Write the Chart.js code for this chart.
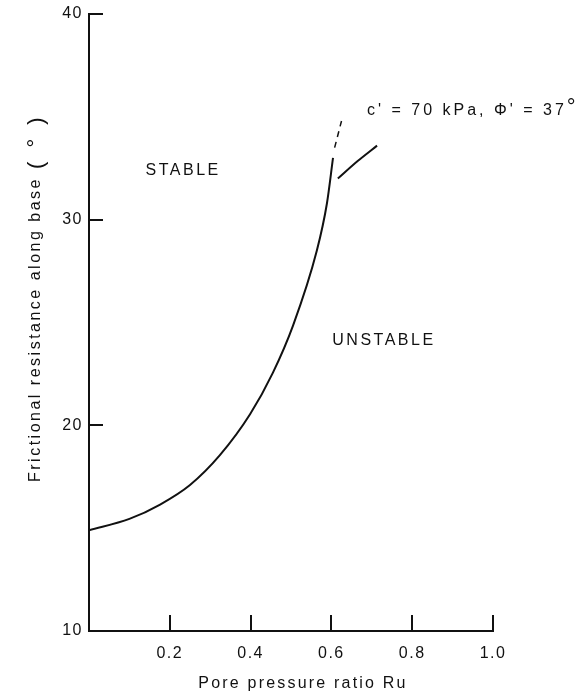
<!DOCTYPE html>
<html>
<head>
<meta charset="utf-8">
<script src="https://cdn.jsdelivr.net/npm/chart.js@4.4.1/dist/chart.umd.min.js"></script>
<style>
  html, body { margin: 0; padding: 0; background: #fff; }
  #wrap { width: 576px; height: 695px; position: relative; }
</style>
</head>
<body>
<div id="wrap"><canvas id="chart"></canvas></div>
<script>
// friction angle needed along the base vs pore pressure ratio
const ru = [0, 0.10, 0.176, 0.25, 0.324, 0.399, 0.455, 0.505, 0.564, 0.589, 0.604];
const friction = [14.9, 15.45, 16.15, 17.1, 18.55, 20.55, 22.55, 24.85, 28.5, 30.8, 33.0];

// dashed bit on top of the curve
const ruDash = [0.608, 0.625];
const frictionDash = [33.5, 34.8];

// short line pointing at the label
const ruLeader = [0.616, 0.665, 0.713];
const frictionLeader = [32.0, 32.85, 33.6];

const xTicks = [0, 0.2, 0.4, 0.6, 0.8, 1.0];
const yTicks = [10, 20, 30, 40];

const regionNames = ['STABLE', 'UNSTABLE'];
const regionRu = [0.233, 0.73];
const regionFriction = [32.4, 24.1];

const curveLabel = "c' = 70 kPa, \u03A6' = 37";
const curveLabelRu = 0.688;
const curveLabelFriction = 35.3;

const ink = '#111';
const family = '"Liberation Sans", Arial, Helvetica, sans-serif';
Chart.defaults.font.family = family;

const pts = (xs, ys) => xs.map((v, i) => ({x: v, y: ys[i]}));

const paperText = {
    id: 'paperText',
    beforeDraw(chart) {
        chart.ctx.letterSpacing = '1.5px';
    },
    afterDraw(chart) {
        const {ctx, chartArea} = chart;
        const x = chart.scales.x, y = chart.scales.y;
        ctx.save();
        ctx.fillStyle = ink;
        ctx.textBaseline = 'middle';

        ctx.font = '16px ' + family;
        ctx.letterSpacing = '2.5px';
        ctx.textAlign = 'center';
        regionNames.forEach((name, i) => {
            ctx.fillText(name, x.getPixelForValue(regionRu[i]), y.getPixelForValue(regionFriction[i]));
        });

        // c', phi' label, degree sign raised
        ctx.textAlign = 'left';
        ctx.letterSpacing = '3px';
        const lx = x.getPixelForValue(curveLabelRu);
        const ly = y.getPixelForValue(curveLabelFriction);
        ctx.fillText(curveLabel, lx, ly);
        const lw = ctx.measureText(curveLabel).width;
        ctx.font = '22px ' + family;
        ctx.fillText('\u00B0', lx + lw, ly - 3);

        // axis titles
        ctx.font = '16px ' + family;
        ctx.letterSpacing = '2.2px';
        ctx.textAlign = 'center';
        ctx.fillText('Pore pressure ratio Ru', (chartArea.left + chartArea.right) / 2 + 12, chart.height - 11);

        ctx.translate(36, chartArea.bottom - 149);
        ctx.rotate(-Math.PI / 2);
        ctx.textAlign = 'left';
        ctx.letterSpacing = '2.5px';
        const t = 'Frictional resistance along base';
        ctx.fillText(t, 0, 0);
        const tw = ctx.measureText(t).width;
        ctx.font = '22px ' + family;
        ctx.letterSpacing = '4px';
        ctx.fillText('( \u00B0 )', tw + 8, 1);
        ctx.restore();
    }
};

new Chart(document.getElementById('chart').getContext('2d'), {
    type: 'line',
    data: {
        datasets: [{
            data: pts(ru, friction),
            borderColor: ink,
            borderWidth: 2,
            pointRadius: 0,
            cubicInterpolationMode: 'monotone'
        }, {
            data: pts(ruDash, frictionDash),
            borderColor: ink,
            borderWidth: 1.5,
            borderDash: [6, 5],
            pointRadius: 0
        }, {
            data: pts(ruLeader, frictionLeader),
            borderColor: ink,
            borderWidth: 2,
            pointRadius: 0,
            tension: 0.3
        }]
    },
    options: {
        responsive: true,
        maintainAspectRatio: false,
        animation: false,
        layout: {padding: {left: 0, right: 83, top: 14, bottom: 0}},
        plugins: {legend: {display: false}, tooltip: {enabled: false}},
        scales: {
            x: {
                type: 'linear',
                min: 0,
                max: 1,
                afterBuildTicks: s => { s.ticks = xTicks.map(v => ({value: v})); },
                afterFit: s => {
                    s.height = 64;
                    s.paddingLeft = 0;
                    s.paddingRight = 0;
                },
                ticks: {
                    color: ink,
                    font: {size: 16},
                    padding: 29,
                    maxRotation: 0,
                    autoSkip: false,
                    callback: v => v === 0 ? '' : v.toFixed(1)
                },
                grid: {drawOnChartArea: false, drawTicks: true, tickLength: -16, color: ink, lineWidth: 2},
                border: {color: ink, width: 2}
            },
            y: {
                type: 'linear',
                min: 10,
                max: 40,
                afterBuildTicks: s => { s.ticks = yTicks.map(v => ({value: v})); },
                afterFit: s => {
                    s.width = 89;
                    s.paddingTop = 0;
                    s.paddingBottom = 0;
                },
                ticks: {
                    color: ink,
                    font: {size: 16},
                    padding: 20,
                    callback: v => String(v)
                },
                grid: {drawOnChartArea: false, drawTicks: true, tickLength: -14, color: ink, lineWidth: 2},
                border: {color: ink, width: 2}
            }
        }
    },
    plugins: [paperText]
});
</script>
</body>
</html>
